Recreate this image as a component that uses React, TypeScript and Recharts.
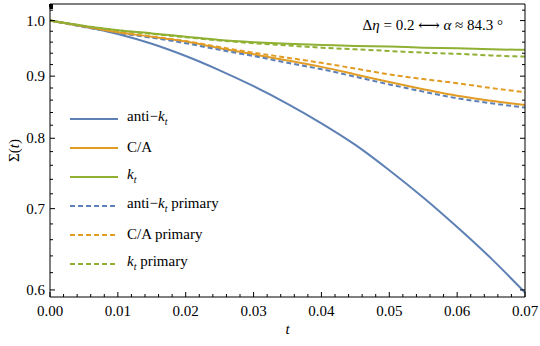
import React from "react";
import { LineChart, Line, XAxis, YAxis, Legend, Label } from "recharts";

// t grid and Σ(t) values
const T = [0, 0.005, 0.01, 0.015, 0.02, 0.025, 0.03, 0.035, 0.04, 0.045, 0.05, 0.055, 0.06, 0.065, 0.07];
const ANTI_KT = [1.0, 0.989, 0.975, 0.957, 0.935, 0.91, 0.883, 0.854, 0.823, 0.79, 0.753, 0.715, 0.676, 0.637, 0.597];
const CA = [1.0, 0.989, 0.978, 0.97, 0.961, 0.949, 0.938, 0.927, 0.916, 0.903, 0.89, 0.878, 0.867, 0.859, 0.852];
const KT = [1.0, 0.99, 0.982, 0.976, 0.97, 0.964, 0.96, 0.957, 0.955, 0.953, 0.952, 0.95, 0.949, 0.947, 0.946];
const ANTI_KT_PRIMARY = [1.0, 0.988, 0.977, 0.968, 0.958, 0.946, 0.935, 0.923, 0.912, 0.899, 0.886, 0.874, 0.863, 0.855, 0.848];
const CA_PRIMARY = [1.0, 0.989, 0.978, 0.97, 0.962, 0.951, 0.941, 0.932, 0.923, 0.913, 0.903, 0.895, 0.888, 0.88, 0.873];
const KT_PRIMARY = [1.0, 0.99, 0.982, 0.975, 0.969, 0.963, 0.958, 0.954, 0.95, 0.947, 0.944, 0.941, 0.939, 0.936, 0.934];

const X_TICKS = [0, 0.01, 0.02, 0.03, 0.04, 0.05, 0.06, 0.07];
const Y_TICKS = [0.6, 0.7, 0.8, 0.9, 1.0];

const BLUE = "#5E81B5";
const ORANGE = "#E19C24";
const GREEN = "#8FB032";
const FONT = "'Liberation Serif', 'DejaVu Serif', 'Times New Roman', serif";

// minor ticks every 0.002 on x and 0.02 on y, majors come from the lists above
const X_ALL: number[] = [];
for (let i = 0; i <= 35; i++) X_ALL.push(+(i * 0.002).toFixed(3));
const Y_ALL: number[] = [];
for (let i = 0; i <= 21; i++) Y_ALL.push(+(0.6 + i * 0.02).toFixed(2));

const data = T.map((t, i) => ({
  t,
  antiKt: ANTI_KT[i],
  ca: CA[i],
  kt: KT[i],
  antiKtP: ANTI_KT_PRIMARY[i],
  caP: CA_PRIMARY[i],
  ktP: KT_PRIMARY[i],
}));

const SERIES = [
  { key: "antiKt", color: BLUE, dash: undefined, label: "anti-kt" },
  { key: "ca", color: ORANGE, dash: undefined, label: "C/A" },
  { key: "kt", color: GREEN, dash: undefined, label: "kt" },
  { key: "antiKtP", color: BLUE, dash: "5 3", label: "anti-kt primary" },
  { key: "caP", color: ORANGE, dash: "5 3", label: "C/A primary" },
  { key: "ktP", color: GREEN, dash: "5 3", label: "kt primary" },
];

const isMajorX = (v: number) => X_TICKS.some((m) => Math.abs(m - v) < 1e-6);
const isMajorY = (v: number) => Y_TICKS.some((m) => Math.abs(m - v) < 1e-6);

const Kt = () => (
  <>
    <i>k</i>
    <sub style={{ fontSize: 10, fontStyle: "italic" }}>t</sub>
  </>
);

const legendText = (label: string) => {
  switch (label) {
    case "anti-kt":
      return <>anti−<Kt /></>;
    case "kt":
      return <Kt />;
    case "anti-kt primary":
      return <>anti−<Kt /> primary</>;
    case "kt primary":
      return <><Kt /> primary</>;
    default:
      return label;
  }
};

const renderLegend = () => (
  <div style={{ fontFamily: FONT, fontSize: 15, color: "#000" }}>
    {SERIES.map((s) => (
      <div key={s.key} style={{ display: "flex", alignItems: "center", height: 29 }}>
        <svg width={48} height={6} style={{ marginRight: 9 }}>
          <line x1={0} x2={48} y1={3} y2={3} stroke={s.color} strokeWidth={2} strokeDasharray={s.dash} />
        </svg>
        <span style={{ lineHeight: "15px" }}>{legendText(s.label)}</span>
      </div>
    ))}
  </div>
);

const BottomTick = (props: any) => {
  const { x, y, payload } = props;
  const major = isMajorX(payload.value);
  return (
    <g>
      <line x1={x} x2={x} y1={y} y2={y - (major ? 5 : 3)} stroke="#000" />
      {major && (
        <text x={x} y={y + 19} textAnchor="middle" fontFamily={FONT} fontSize={15} fill="#000">
          {payload.value.toFixed(2)}
        </text>
      )}
    </g>
  );
};

const TopTick = (props: any) => {
  const { x, y, payload } = props;
  const major = isMajorX(payload.value);
  return <line x1={x} x2={x} y1={y} y2={y + (major ? 5 : 3)} stroke="#000" />;
};

const LeftTick = (props: any) => {
  const { x, y, payload } = props;
  const major = isMajorY(payload.value);
  return (
    <g>
      <line x1={x} x2={x + (major ? 5 : 3)} y1={y} y2={y} stroke="#000" />
      {major && (
        <text x={x - 5} y={y + 5} textAnchor="end" fontFamily={FONT} fontSize={15} fill="#000">
          {payload.value.toFixed(1)}
        </text>
      )}
    </g>
  );
};

const RightTick = (props: any) => {
  const { x, y, payload } = props;
  const major = isMajorY(payload.value);
  return <line x1={x} x2={x - (major ? 5 : 3)} y1={y} y2={y} stroke="#000" />;
};

const Y_DOMAIN = [0.592, 1.032];

export default function App() {
  return (
    <div style={{ position: "absolute", left: 0, top: 0, background: "#fff" }}>
      <LineChart width={540} height={346} data={data} margin={{ top: 3, right: 14, bottom: 0, left: 0 }}>
        <XAxis
          dataKey="t"
          type="number"
          domain={[0, 0.07]}
          ticks={X_ALL}
          interval={0}
          tick={<BottomTick />}
          tickLine={false}
          tickSize={0}
          tickMargin={0}
          height={49}
          axisLine={{ stroke: "#000" }}
        >
          <Label
            content={(p: any) => (
              <text
                x={p.viewBox.x + p.viewBox.width / 2}
                y={p.viewBox.y + 37}
                textAnchor="middle"
                fontFamily={FONT}
                fontSize={15}
                fontStyle="italic"
                fill="#000"
              >
                t
              </text>
            )}
          />
        </XAxis>
        <XAxis
          xAxisId="top"
          orientation="top"
          type="number"
          domain={[0, 0.07]}
          ticks={X_ALL}
          interval={0}
          tick={<TopTick />}
          tickLine={false}
          tickSize={0}
          tickMargin={0}
          height={1}
          axisLine={{ stroke: "#000" }}
        >
          <Label
            content={(p: any) => (
              <text
                x={p.viewBox.x + p.viewBox.width}
                y={30}
                textAnchor="end"
                fontFamily={FONT}
                fontSize={15}
                fill="#000"
                transform="translate(-22,0)"
              >
                Δ<tspan fontStyle="italic">η</tspan> = 0.2 ⟷ <tspan fontStyle="italic">α</tspan> ≈ 84.3 °
              </text>
            )}
          />
        </XAxis>
        <YAxis
          type="number"
          scale="log"
          domain={Y_DOMAIN}
          allowDataOverflow
          ticks={Y_ALL}
          interval={0}
          tick={<LeftTick />}
          tickLine={false}
          tickSize={0}
          tickMargin={0}
          width={50}
          axisLine={{ stroke: "#000" }}
        >
          <Label
            content={(p: any) => {
              const cx = 14;
              const cy = p.viewBox.y + p.viewBox.height / 2;
              return (
                <text
                  x={cx}
                  y={cy}
                  textAnchor="middle"
                  fontFamily={FONT}
                  fontSize={15}
                  fill="#000"
                  transform={`rotate(-90 ${cx} ${cy})`}
                  dominantBaseline="central"
                >
                  Σ(<tspan fontStyle="italic">t</tspan>)
                </text>
              );
            }}
          />
        </YAxis>
        <YAxis
          yAxisId="right"
          orientation="right"
          type="number"
          scale="log"
          domain={Y_DOMAIN}
          allowDataOverflow
          ticks={Y_ALL}
          interval={0}
          tick={<RightTick />}
          tickLine={false}
          tickSize={0}
          tickMargin={0}
          width={1}
          axisLine={{ stroke: "#000" }}
        />
        <Legend
          layout="vertical"
          align="center"
          verticalAlign="middle"
          content={renderLegend}
          wrapperStyle={{ position: "absolute", left: 70, top: 104, width: 220, height: 174 }}
        />
        {SERIES.map((s) => (
          <Line
            key={s.key}
            dataKey={s.key}
            type="monotone"
            stroke={s.color}
            strokeWidth={2}
            strokeDasharray={s.dash}
            dot={false}
            isAnimationActive={false}
          />
        ))}
      </LineChart>
    </div>
  );
}
